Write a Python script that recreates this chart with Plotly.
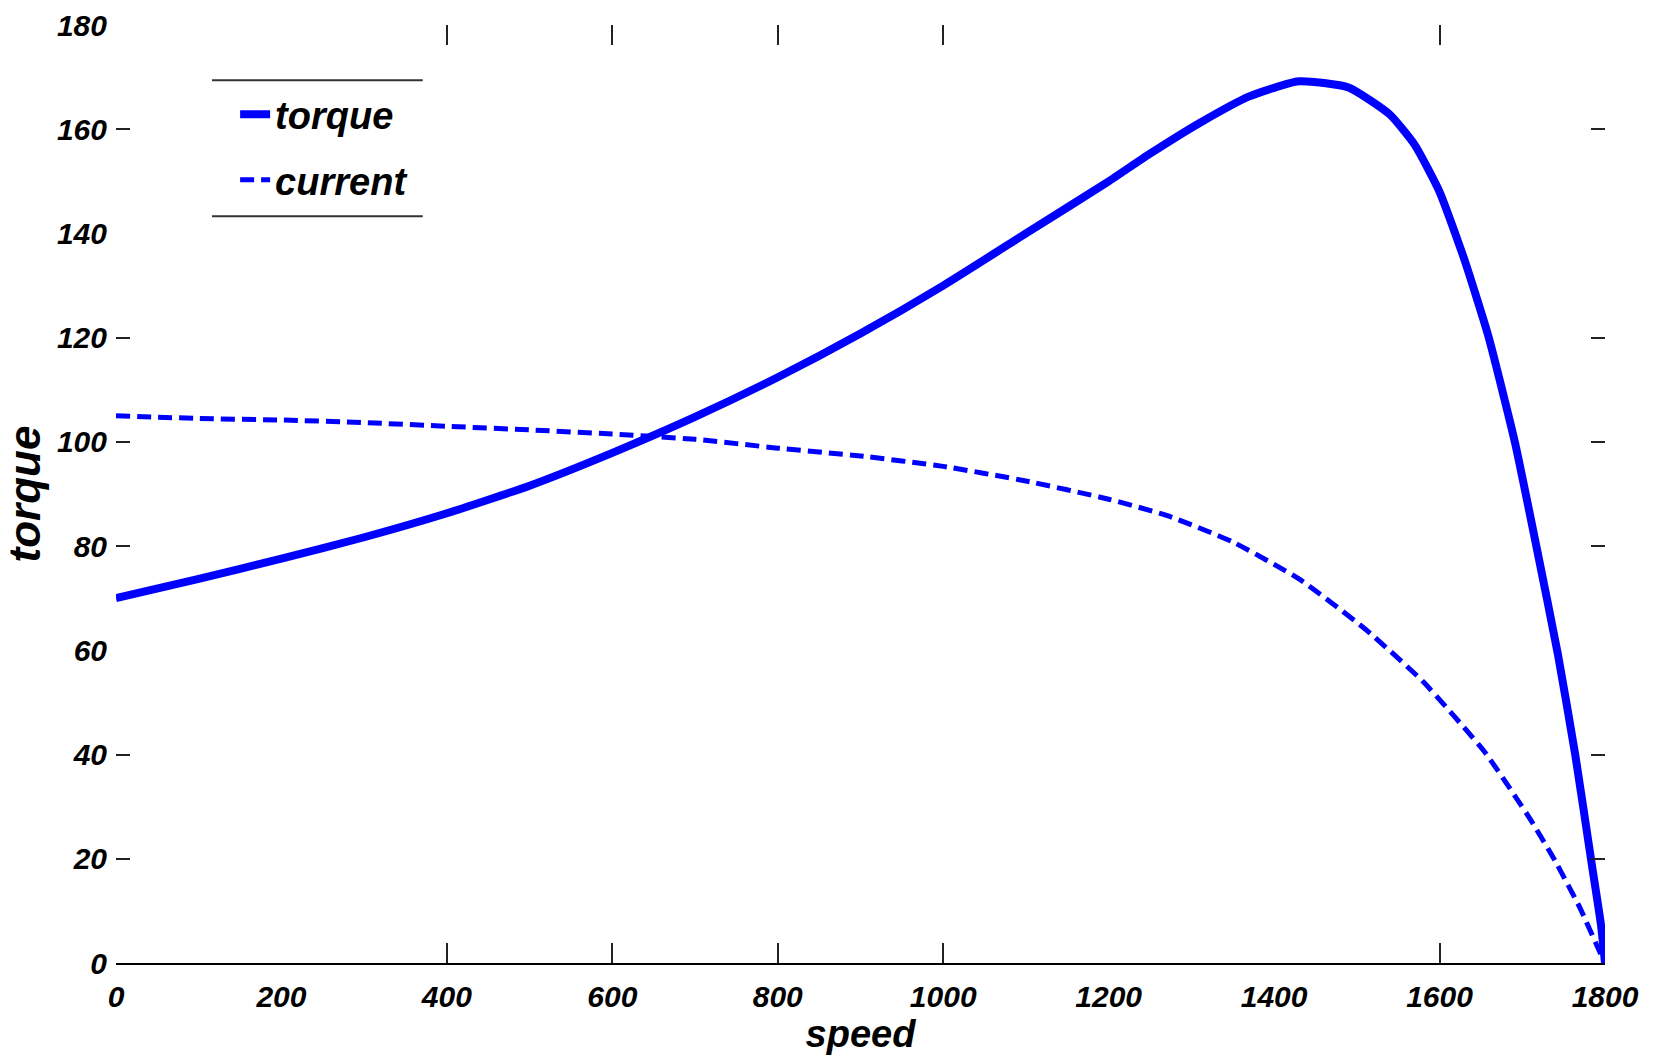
import plotly.graph_objects as go

# ---- data ----
torque_speed = [0, 100, 200, 300, 400, 500, 600, 700, 800, 900, 1000, 1100, 1200, 1250, 1310,
                1370, 1430, 1490, 1540, 1570, 1600, 1630, 1659, 1691, 1717, 1743, 1764, 1783,
                1795, 1800]
torque_vals = [70, 73.7, 77.6, 81.7, 86.3, 91.6, 97.9, 104.8, 112.4, 120.8, 130, 140, 150,
               155.3, 161.2, 166.3, 169.2, 168, 162.8, 157, 148, 135, 120.3, 100, 80, 59.3, 40,
               20, 7.5, 0]

current_speed = [0, 100, 200, 300, 400, 500, 600, 700, 800, 900, 1000, 1100, 1200, 1270, 1350,
                 1430, 1510, 1580, 1655, 1710, 1740, 1770, 1794, 1800]
current_vals = [105, 104.5, 104.2, 103.7, 103, 102.3, 101.5, 100.5, 98.8, 97.3, 95.3, 92.5, 89,
                85.9, 80.8, 73.7, 64.1, 54, 40.4, 27.5, 19.5, 10.5, 2, 0]

x_tick_labels = [0, 200, 400, 600, 800, 1000, 1200, 1400, 1600, 1800]
y_tick_labels = [0, 20, 40, 60, 80, 100, 120, 140, 160, 180]
# tick marks that are actually drawn in the reference
x_tick_marks = [400, 600, 800, 1000, 1600]
y_tick_marks = [20, 40, 80, 100, 120, 160]

FONT = "Liberation Sans, Arial, sans-serif"
BLUE = "#0000FF"

fig = go.Figure()
fig.add_trace(go.Scatter(
    x=torque_speed, y=torque_vals, mode="lines", name="torque", legendgroup="a",
    line=dict(color=BLUE, width=8, shape="spline", smoothing=0.5),
    hoverinfo="skip"))
fig.add_trace(go.Scatter(
    x=current_speed, y=current_vals, mode="lines", name="current", legendgroup="b",
    line=dict(color=BLUE, width=5, dash="14px,7px", shape="spline", smoothing=0.5),
    hoverinfo="skip"))
# helper trace so the overlay axes (tick marks) exist
fig.add_trace(go.Scatter(x=[None], y=[None], xaxis="x2", yaxis="y2",
                         showlegend=False, hoverinfo="skip"))

tick_font = dict(family=FONT, size=30, color="black", weight="bold", style="italic")

fig.update_layout(
    width=1663, height=1056,
    paper_bgcolor="white", plot_bgcolor="white",
    margin=dict(l=116, r=58, t=25, b=93, autoexpand=False),
    showlegend=True,
    legend=dict(x=0.080, y=0.938, xanchor="left", yanchor="top",
                bgcolor="rgba(0,0,0,0)", borderwidth=0,
                font=dict(family=FONT, size=38, color="black", weight="bold", style="italic"),
                traceorder="grouped", tracegroupgap=13),
    xaxis=dict(range=[0, 1800], tickmode="array", tickvals=x_tick_labels,
               ticktext=[str(v) for v in x_tick_labels], ticks="",
               showline=True, linecolor="black", linewidth=2, mirror=False,
               showgrid=False, zeroline=False, tickfont=tick_font, ticklabelstandoff=6,
               automargin=False,
               title=dict(text="speed", standoff=2,
                          font=dict(family=FONT, size=38, color="black", weight="bold",
                                    style="italic"))),
    yaxis=dict(range=[0, 180], tickmode="array", tickvals=y_tick_labels,
               ticktext=[str(v) for v in y_tick_labels], ticks="",
               showline=False, showgrid=False, zeroline=False,
               tickfont=tick_font, ticklabelstandoff=8, automargin=False,
               title=dict(text="torque", standoff=8,
                          font=dict(family=FONT, size=44, color="black", weight="bold",
                                    style="italic"))),
    xaxis2=dict(range=[0, 1800], overlaying="x", anchor="y2", side="bottom",
                tickmode="array", tickvals=x_tick_marks, ticks="inside", ticklen=20,
                tickwidth=2, tickcolor="#222", mirror="ticks", showline=False,
                showticklabels=False, showgrid=False, zeroline=False, automargin=False),
    yaxis2=dict(range=[0, 180], overlaying="y", anchor="x2", side="left",
                tickmode="array", tickvals=y_tick_marks, ticks="inside", ticklen=14,
                tickwidth=2, tickcolor="#222", mirror="ticks", showline=False,
                showticklabels=False, showgrid=False, zeroline=False, automargin=False),
    shapes=[
        dict(type="line", xref="paper", yref="paper", x0=0.0645, x1=0.206, y0=0.941, y1=0.941,
             line=dict(color="#333", width=2)),
        dict(type="line", xref="paper", yref="paper", x0=0.0645, x1=0.206, y0=0.796, y1=0.796,
             line=dict(color="#333", width=2)),
    ],
)

fig.write_html("out.html", config={"displayModeBar": False},
               post_script="document.body.style.margin='0';document.body.style.overflow='hidden';")
